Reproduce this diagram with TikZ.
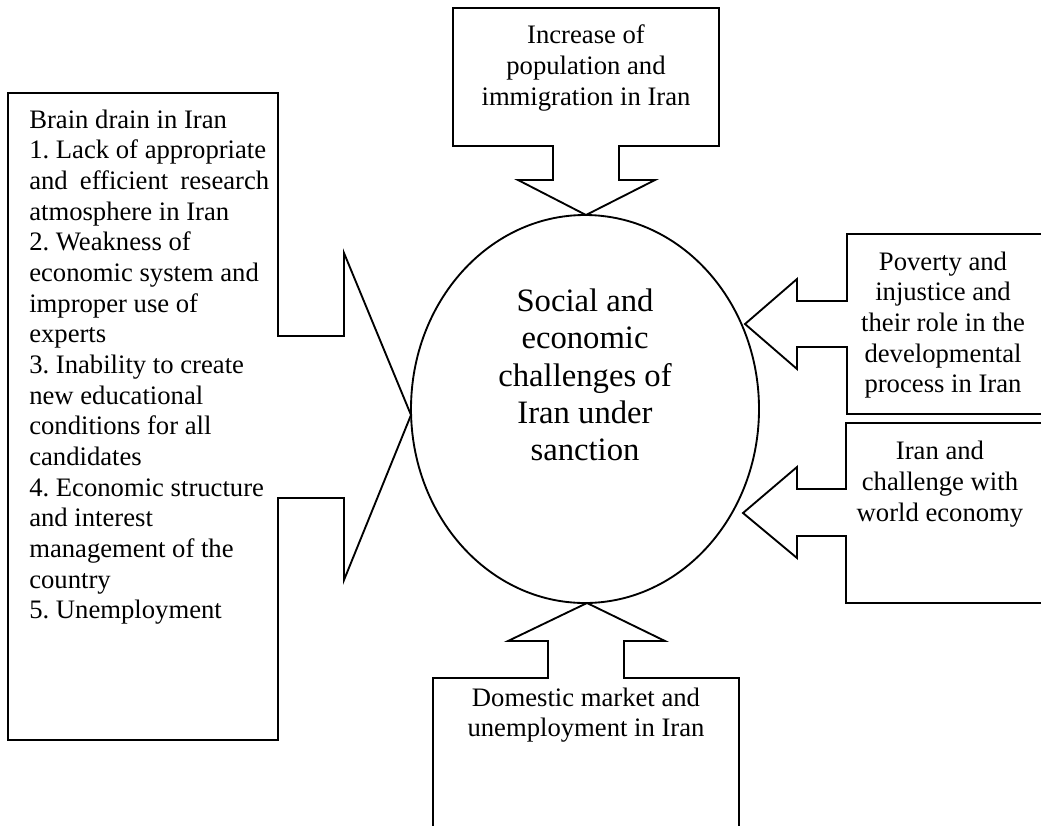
\documentclass[tikz,border=0pt]{standalone}
\usepackage{fontspec}
\setmainfont{Liberation Serif}
\frenchspacing
\usetikzlibrary{shapes.geometric}
\tikzset{
  shapeline/.style={draw=black, line width=1.4pt, line join=miter},
  boxtext/.style={inner sep=0pt, align=center, font=\fontsize{20pt}{23pt}\selectfont\frenchspacing},
  coretext/.style={inner sep=0pt, align=center, font=\fontsize{24.5pt}{28pt}\selectfont},
}
\begin{document}
\begin{tikzpicture}[x=0.75pt,y=-0.75pt]
\useasboundingbox (0,0) rectangle (1041,825);
% left callout
\draw[shapeline] (8,93) -- (278,93) -- (278,336) -- (344,336) -- (344,253) -- (411,415) -- (344,580) -- (344,498) -- (278,498) -- (278,740) -- (8,740) -- cycle;
% top callout
\draw[shapeline] (453,8) -- (719,8) -- (719,146) -- (619,146) -- (619,180) -- (655,180) -- (586,215) -- (518,180) -- (553,180) -- (553,146) -- (453,146) -- cycle;
% right callouts
\draw[shapeline] (1046,234) -- (847,234) -- (847,301) -- (797,301) -- (797,279) -- (745,324) -- (797,369) -- (797,347) -- (847,347) -- (847,414) -- (1046,414);
\draw[shapeline] (1046,423) -- (846,423) -- (846,489) -- (797,489) -- (797,467) -- (743,513) -- (797,558) -- (797,536) -- (846,536) -- (846,603) -- (1046,603);
% bottom callout
\draw[shapeline] (433,830) -- (433,678) -- (548,678) -- (548,641) -- (508,641) -- (587,603) -- (665,641) -- (624,641) -- (624,678) -- (739,678) -- (739,830);
% core ellipse
\node[ellipse, shapeline, inner sep=0pt, minimum width=261pt, minimum height=291pt] (core) at (585,409) {};
\node[coretext] (coretxt) at (585,375) {Social and\\economic\\challenges of\\Iran under\\sanction};
% texts
\node[boxtext, anchor=west, align=left] (brain) at (29,367) {Brain drain in Iran\\
1. Lack of appropriate\\
\makebox[180pt][s]{and efficient research}\\
atmosphere in Iran\\
2. Weakness of\\
economic system and\\
improper use of\\
experts\\
3. Inability to create\\
new educational\\
conditions for all\\
candidates\\
4. Economic structure\\
and interest\\
management of the\\
country\\
5. Unemployment};
\node[boxtext] (pop) at (586,68) {Increase of\\population and\\immigration in Iran};
\node[boxtext] (pov) at (943,325) {Poverty and\\injustice and\\their role in the\\developmental\\process in Iran};
\node[boxtext] (world) at (940,484) {Iran and\\challenge with\\world economy};
\node[boxtext] (dom) at (586,715) {Domestic market and\\unemployment in Iran};
\end{tikzpicture}
\end{document}
